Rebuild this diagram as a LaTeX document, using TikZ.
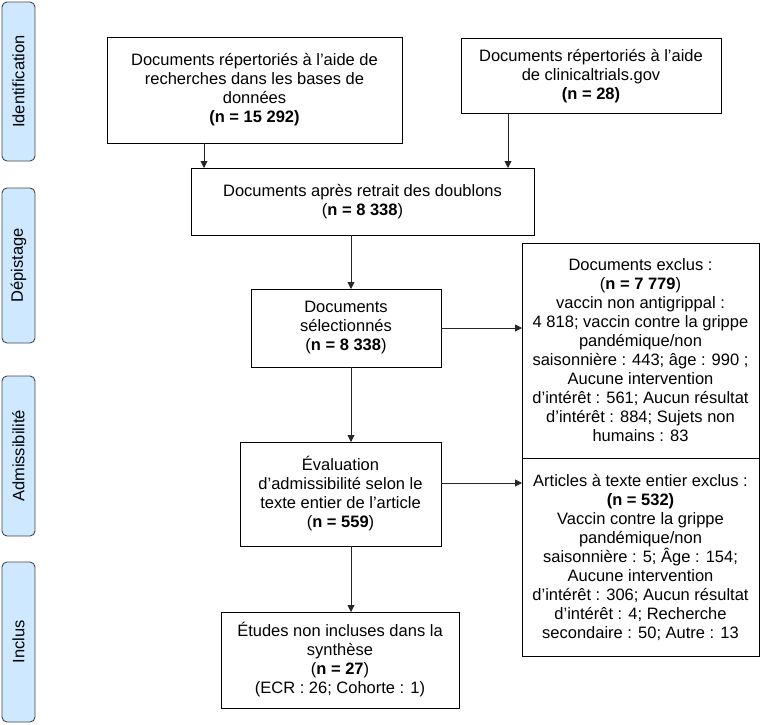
\documentclass[tikz,border=0pt]{standalone}
\usepackage{fontspec}
\setmainfont{Liberation Sans}
\usepackage{tikz}
\usetikzlibrary{calc,positioning,arrows.meta}
\definecolor{PhaseBlue}{RGB}{206,232,255}
\definecolor{PhaseLine}{RGB}{70,70,70}
\newcommand{\prfsize}{\fontsize{16.5}{19}\selectfont}
\tikzset{
 prf box/.style={draw=black,line width=1pt,align=center,inner sep=0pt,
                 outer sep=0pt,font=\prfsize},
 prf phase/.style={draw=PhaseLine,fill=PhaseBlue,line width=.9pt,
                   rounded corners=5pt,rotate=90,minimum height=33pt,
                   inner sep=0pt,font=\prfsize},
 prf arrow/.style={-{Triangle[length=7pt,width=7pt]},line width=.9pt,
                   draw=black!85}
}

\begin{document}
\begin{tikzpicture}[x=1pt,y=-1pt]
 \useasboundingbox (0,0) rectangle (760,724);
 % phases on the left
 \foreach \n/\t/\y/\h in {ident/Identification/81.5/159,
                          depist/Dépistage/265.5/155,
                          admis/Admissibilité/456/160,
                          incl/Inclus/642/160}{
   \node[prf phase,minimum width=\h pt] (\n) at (18.5,\y) {\t};
 }
 % main column
 \node[prf box,minimum width=295pt,minimum height=106pt] (b1) at (254.5,90)
   {Documents répertoriés à l’aide de\\recherches dans les bases de\\données\\
    \textbf{(n = 15 292)}};
 \node[prf box,minimum width=260pt,minimum height=75pt] (b2) at (591,76)
   {Documents répertoriés à l’aide\\de clinicaltrials.gov\\\textbf{(n = 28)}};
 \node[prf box,minimum width=343pt,minimum height=67pt] (b3) at (362.5,201.5)
   {Documents après retrait des doublons\\(\textbf{n = 8 338})};
 \node[prf box,minimum width=190pt,minimum height=78pt] (b4) at (346,328)
   {Documents\\sélectionnés\\(\textbf{n = 8 338})};
 \node[prf box,minimum width=201pt,minimum height=104pt] (b5) at (340.5,494)
   {Évaluation\\d’admissibilité selon le\\texte entier de l’article\\
    (\textbf{n = 559})};
 \node[prf box,minimum width=238pt,minimum height=96pt] (b6) at (340,660)
   {Études non incluses dans la\\synthèse\\(\textbf{n = 27})\\
    (ECR : 26; Cohorte : 1)};
 % exclusions
 \node[prf box,minimum width=237pt,minimum height=215pt] (e1) at (640.5,350.5)
   {Documents exclus :\\(\textbf{n = 7 779})\\vaccin non antigrippal :\\
    4 818; vaccin contre la grippe\\pandémique/non\\
    saisonnière : 443; âge : 990 ;\\Aucune intervention\\
    d’intérêt : 561; Aucun résultat\\d’intérêt : 884; Sujets non\\
    humains : 83};
 \node[prf box,minimum width=237pt,minimum height=198pt] (e2) at (640.5,557)
   {Articles à texte entier exclus :\\\textbf{(n = 532)}\\
    Vaccin contre la grippe\\pandémique/non\\
    saisonnière : 5; Âge : 154;\\Aucune intervention\\
    d’intérêt : 306; Aucun résultat\\d’intérêt : 4; Recherche\\
    secondaire : 50; Autre : 13};
 % connectors
 \coordinate (spine) at (351,0);
 \draw[prf arrow] ([xshift=97pt]b1.south west)
   -- ([xshift=97pt]b1.south west |- b3.north);
 \draw[prf arrow] ([xshift=47pt]b2.south west)
   -- ([xshift=47pt]b2.south west |- b3.north);
 \draw[prf arrow] (b3.south -| spine) -- (b4.north -| spine);
 \draw[prf arrow] (b4.south -| spine) -- (b5.north -| spine);
 \draw[prf arrow] (b5.south -| spine) -- (b6.north -| spine);
 \draw[prf arrow] (b4.east) -- (b4.east -| e1.west);
 \draw[prf arrow] ([yshift=11pt]b5.east) -- ([yshift=11pt]b5.east -| e2.west);
\end{tikzpicture}
\end{document}
